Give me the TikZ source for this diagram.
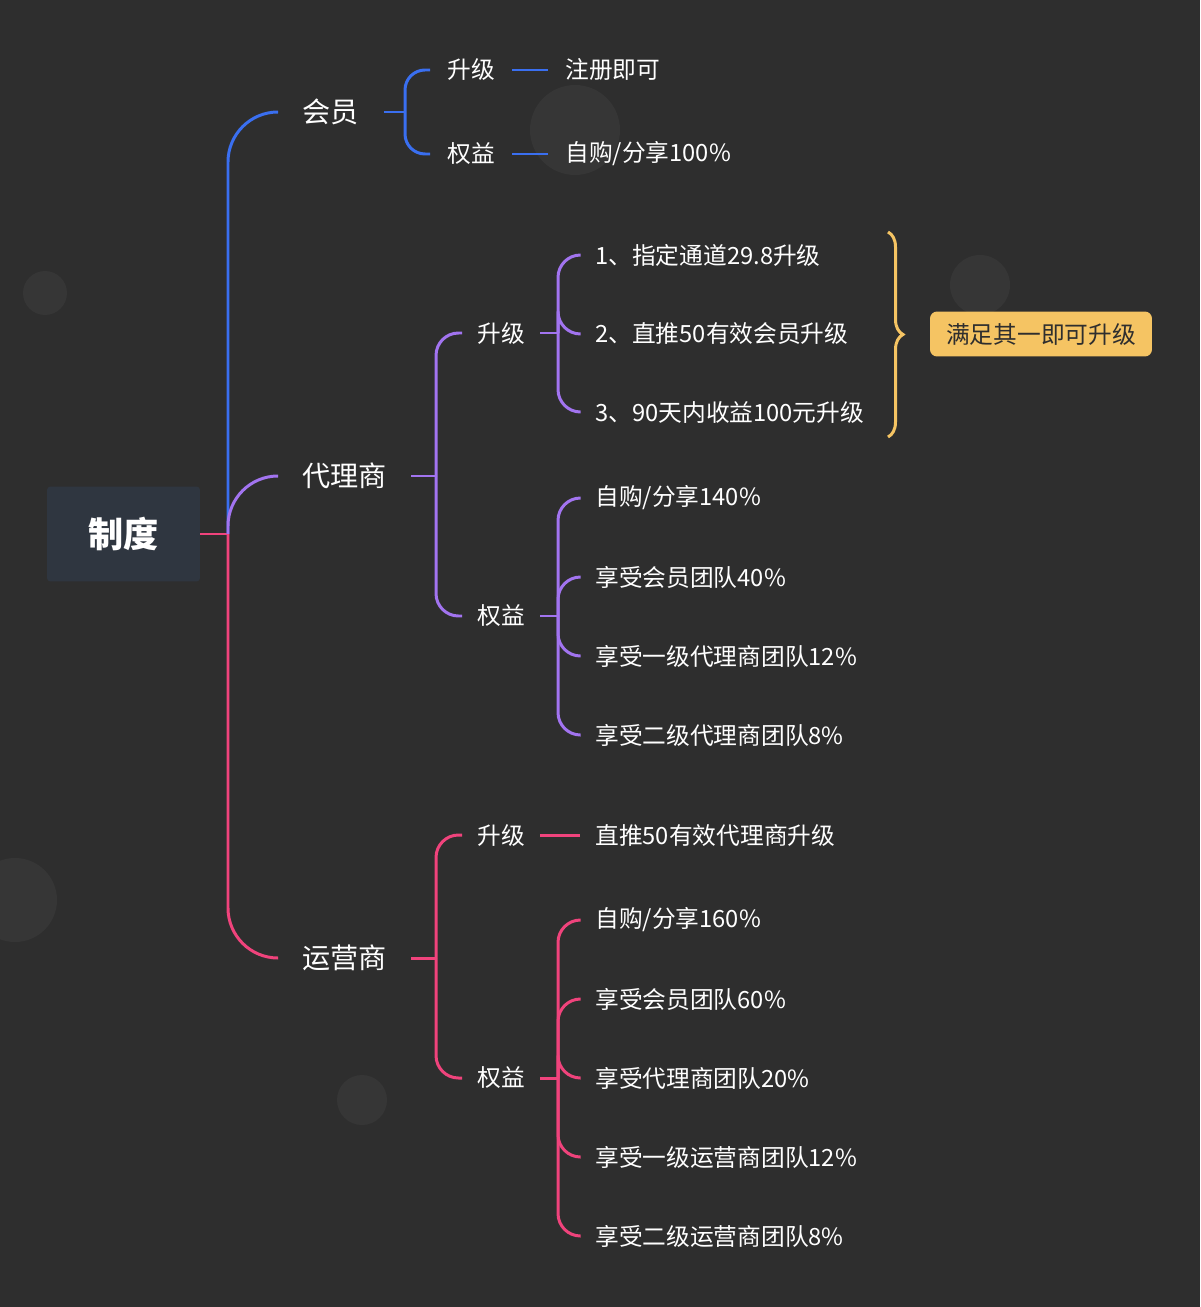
\documentclass[tikz,border=0pt]{standalone}
\usepackage{fontspec}
\setmainfont{Noto Sans CJK SC}
\usetikzlibrary{calc,decorations.pathreplacing}
\definecolor{bgdark}{HTML}{2E2E2E}
\definecolor{dotgray}{HTML}{363636}
\definecolor{rootfill}{HTML}{2F3640}
\definecolor{cblue}{HTML}{3A6FF0}
\definecolor{cpurple}{HTML}{A274F0}
\definecolor{cpink}{HTML}{F0437C}
\definecolor{cyellow}{HTML}{F5C463}
\tikzset{
  lvone/.style={anchor=west, inner sep=0pt, text=white, font=\fontsize{16}{18}\selectfont},
  lvtwo/.style={anchor=west, inner sep=0pt, text=white, font=\fontsize{13.5}{16}\selectfont},
  link/.style={line width=1.7pt, rounded corners=0.45cm},
}
\begin{document}
\begin{tikzpicture}[x=0.02cm, y=-0.02cm]
  \fill[bgdark] (0,0) rectangle (1200,1307);
  \useasboundingbox (0,0) rectangle (1200,1307);
  % faint dots
  \foreach \cx/\cy/\r in {575/130/45, 45/293/22, 980/285/30, 15/900/42, 362/1100/25}
    \fill[dotgray] (\cx,\cy) circle (\r);
  % root
  \node[fill=rootfill, rounded corners=2pt, minimum width=3.06cm, minimum height=1.9cm,
        text=white, font=\fontsize{20}{24}\selectfont\bfseries] (root) at (123.5,534) {制度};
  % first level
  \node[lvone] (hy) at (302,112) {会员};
  \node[lvone] (dl) at (302,476) {代理商};
  \node[lvone] (yy) at (302,958) {运营商};
  \coordinate (sp) at (228,534);
  \draw[line width=1.7pt, cpink] (root.east) -- (sp);
  \draw[link, rounded corners=1cm, cblue] (sp) |- ($(hy.west)+(-24,0)$);
  \draw[link, rounded corners=1cm, cpurple] (sp) |- ($(dl.west)+(-24,0)$);
  \draw[link, rounded corners=1cm, cpink] (sp) |- ($(yy.west)+(-24,0)$);
  % 会员
  \node[lvtwo] (hysj) at (447,70) {升级};
  \node[lvtwo] (hyqy) at (447,154) {权益};
  \node[lvtwo] (hysja) at (565,70) {注册即可};
  \node[lvtwo] (hyqya) at (565,154) {自购/分享100\%};
  \draw[line width=1.7pt, cblue] ($(hy.east)+(25,0)$) -- (405,112);
  \foreach \c in {hysj,hyqy}
    \draw[link, rounded corners=0.4cm, cblue] (405,112) |- ($(\c.west)+(-17,0)$);
  \draw[line width=1.7pt, cblue] ($(hysj.east)+(17,0)$) -- ($(hysja.west)+(-17,0)$);
  \draw[line width=1.7pt, cblue] ($(hyqy.east)+(17,0)$) -- ($(hyqya.west)+(-17,0)$);
  % 代理商
  \node[lvtwo] (dlsj) at (477,333) {升级};
  \node[lvtwo] (dlqy) at (477,616) {权益};
  \draw[line width=1.7pt, cpurple] ($(dl.east)+(24,0)$) -- (436,476);
  \foreach \c in {dlsj,dlqy}
    \draw[link, cpurple] (436,476) |- ($(\c.west)+(-15,0)$);
  \node[lvtwo] (dla) at (595,255) {1、指定通道29.8升级};
  \node[lvtwo] (dlb) at (595,334) {2、直推50有效会员升级};
  \node[lvtwo] (dlc) at (595,412) {3、90天内收益100元升级};
  \draw[line width=1.7pt, cpurple] ($(dlsj.east)+(15,0)$) -- (558,333);
  \foreach \c in {dla,dlb,dlc}
    \draw[link, cpurple] (558,333) |- ($(\c.west)+(-15,0)$);
  \node[lvtwo] (dld) at (595,498) {自购/分享140\%};
  \node[lvtwo] (dle) at (595,577) {享受会员团队40\%};
  \node[lvtwo] (dlf) at (595,656) {享受一级代理商团队12\%};
  \node[lvtwo] (dlg) at (595,735) {享受二级代理商团队8\%};
  \draw[line width=1.7pt, cpurple] ($(dlqy.east)+(15,0)$) -- (558,616);
  \foreach \c in {dld,dle,dlf,dlg}
    \draw[link, cpurple] (558,616) |- ($(\c.west)+(-15,0)$);
  % brace and note
  \draw[cyellow, line width=1.7pt, decorate, decoration={brace, amplitude=0.3cm}]
    (888,232) -- (888,437);
  \node[fill=cyellow, rounded corners=4pt, minimum width=4.44cm, minimum height=0.9cm,
        text=bgdark, font=\fontsize{13.5}{16}\selectfont] (note) at (1041,334) {满足其一即可升级};
  % 运营商
  \node[lvtwo] (yysj) at (477,835) {升级};
  \node[lvtwo] (yyqy) at (477,1078) {权益};
  \draw[line width=1.7pt, cpink] ($(yy.east)+(24,0)$) -- (436,958);
  \foreach \c in {yysj,yyqy}
    \draw[link, cpink] (436,958) |- ($(\c.west)+(-15,0)$);
  \node[lvtwo] (yya) at (595,835) {直推50有效代理商升级};
  \draw[line width=1.7pt, cpink] ($(yysj.east)+(15,0)$) -- ($(yya.west)+(-15,0)$);
  \node[lvtwo] (yyb) at (595,920) {自购/分享160\%};
  \node[lvtwo] (yyc) at (595,999) {享受会员团队60\%};
  \node[lvtwo] (yyd) at (595,1078) {享受代理商团队20\%};
  \node[lvtwo] (yye) at (595,1157) {享受一级运营商团队12\%};
  \node[lvtwo] (yyf) at (595,1236) {享受二级运营商团队8\%};
  \draw[line width=1.7pt, cpink] ($(yyqy.east)+(15,0)$) -- (558,1078);
  \foreach \c in {yyb,yyc,yyd,yye,yyf}
    \draw[link, cpink] (558,1078) |- ($(\c.west)+(-15,0)$);
\end{tikzpicture}
\end{document}
